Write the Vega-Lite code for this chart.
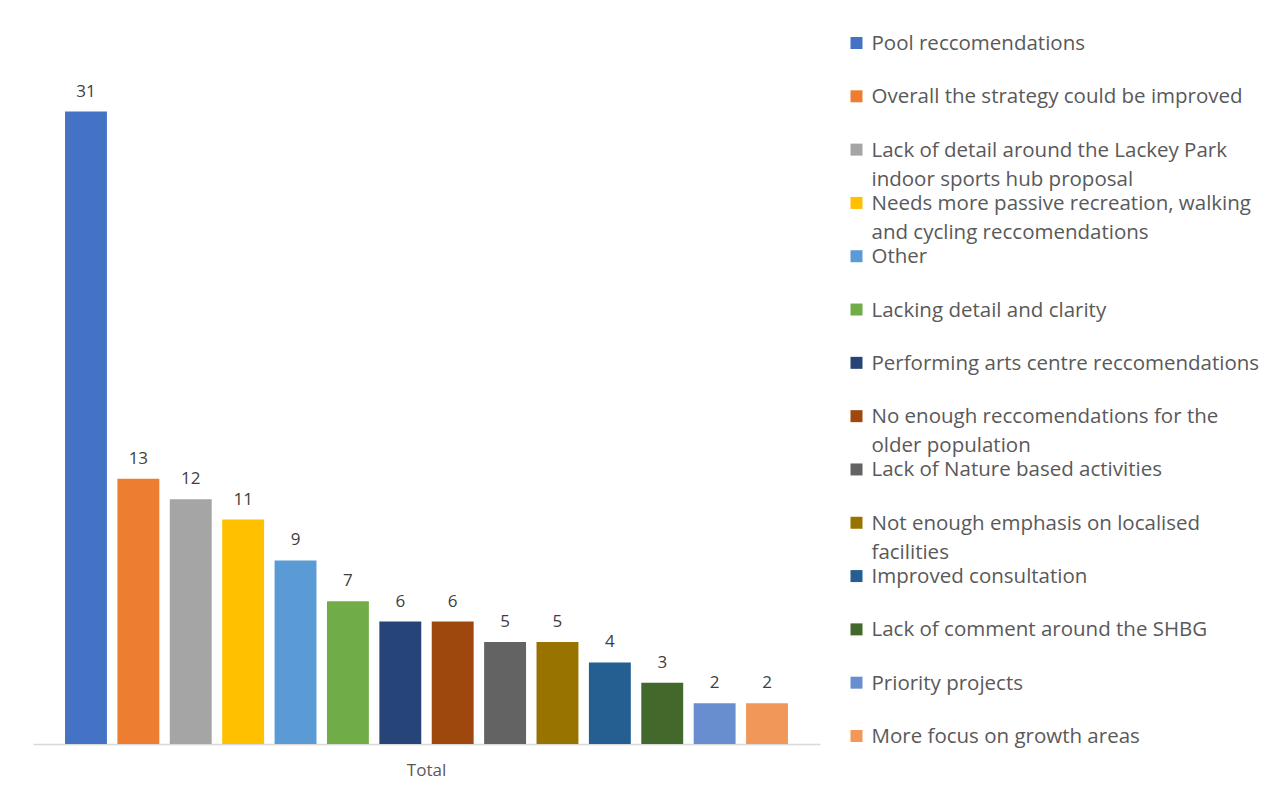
{
  "$schema": "https://vega.github.io/schema/vega-lite/v6.json",
  "background": "white",
  "padding": {"left": 33, "top": 30, "right": 0, "bottom": 12},
  "config": {"view": {"stroke": null}, "font": "Open Sans"},
  "data": {
    "values": [
      {"group": "Total", "order": 1, "name": "Pool reccomendations", "legend": "Pool reccomendations", "value": 31},
      {"group": "Total", "order": 2, "name": "Overall the strategy could be improved", "legend": "Overall the strategy could be improved", "value": 13},
      {"group": "Total", "order": 3, "name": "Lack of detail around the Lackey Park indoor sports hub proposal", "legend": "Lack of detail around the Lackey Park\nindoor sports hub proposal", "value": 12},
      {"group": "Total", "order": 4, "name": "Needs more passive recreation, walking and cycling reccomendations", "legend": "Needs more passive recreation, walking\nand cycling reccomendations", "value": 11},
      {"group": "Total", "order": 5, "name": "Other", "legend": "Other", "value": 9},
      {"group": "Total", "order": 6, "name": "Lacking detail and clarity", "legend": "Lacking detail and clarity", "value": 7},
      {"group": "Total", "order": 7, "name": "Performing arts centre reccomendations", "legend": "Performing arts centre reccomendations", "value": 6},
      {"group": "Total", "order": 8, "name": "No enough reccomendations for the older population", "legend": "No enough reccomendations for the\nolder population", "value": 6},
      {"group": "Total", "order": 9, "name": "Lack of Nature based activities", "legend": "Lack of Nature based activities", "value": 5},
      {"group": "Total", "order": 10, "name": "Not enough emphasis on localised facilities", "legend": "Not enough emphasis on localised\nfacilities", "value": 5},
      {"group": "Total", "order": 11, "name": "Improved consultation", "legend": "Improved consultation", "value": 4},
      {"group": "Total", "order": 12, "name": "Lack of comment around the SHBG", "legend": "Lack of comment around the SHBG", "value": 3},
      {"group": "Total", "order": 13, "name": "Priority projects", "legend": "Priority projects", "value": 2},
      {"group": "Total", "order": 14, "name": "More focus on growth areas", "legend": "More focus on growth areas", "value": 2}
    ]
  },
  "spacing": 26,
  "hconcat": [
    {
      "width": 787,
      "height": 714,
      "encoding": {
        "x": {
          "field": "group", "type": "nominal", "title": null,
          "scale": {"paddingInner": 0, "paddingOuter": 0.0443},
          "axis": {
            "labelAngle": 0, "ticks": false, "labelFontSize": 17, "labelColor": "#595959",
            "labelPadding": 18, "domainColor": "#d9d9d9", "domainWidth": 1.5, "labelFont": "Open Sans"
          }
        },
        "xOffset": {
          "field": "order", "type": "ordinal",
          "scale": {"paddingInner": 0.2, "paddingOuter": 0}
        },
        "y": {
          "field": "value", "type": "quantitative",
          "scale": {"domain": [0, 35], "nice": false},
          "axis": null
        }
      },
      "layer": [
        {
          "mark": {"type": "bar"},
          "encoding": {
            "color": {
              "field": "name", "type": "nominal", "legend": null,
              "scale": {
                "domain": ["Pool reccomendations", "Overall the strategy could be improved", "Lack of detail around the Lackey Park indoor sports hub proposal", "Needs more passive recreation, walking and cycling reccomendations", "Other", "Lacking detail and clarity", "Performing arts centre reccomendations", "No enough reccomendations for the older population", "Lack of Nature based activities", "Not enough emphasis on localised facilities", "Improved consultation", "Lack of comment around the SHBG", "Priority projects", "More focus on growth areas"],
                "range": ["#4472C4", "#ED7D31", "#A5A5A5", "#FFC000", "#5B9BD5", "#70AD47", "#264478", "#9E480E", "#636363", "#997300", "#255E91", "#43682B", "#698ED0", "#F1975A"]
              }
            }
          }
        },
        {
          "mark": {"type": "text", "baseline": "alphabetic", "dy": -15, "fontSize": 17, "color": "#404040", "font": "Open Sans"},
          "encoding": {"text": {"field": "value", "type": "quantitative"}}
        }
      ]
    },
    {
      "width": 21,
      "height": 719,
      "encoding": {
        "y": {
          "field": "order", "type": "ordinal",
          "scale": {"type": "point", "padding": 0.244},
          "axis": null
        }
      },
      "layer": [
        {
          "mark": {"type": "square", "size": 144, "opacity": 1, "filled": true},
          "encoding": {
            "color": {"field": "name", "type": "nominal", "legend": null}
          }
        },
        {
          "mark": {"type": "text", "align": "left", "baseline": "alphabetic", "dx": 15, "dy": 7, "fontSize": 20.5, "lineHeight": 29, "lineBreak": "\n", "color": "#595959", "font": "Open Sans"},
          "encoding": {"text": {"field": "legend", "type": "nominal"}}
        }
      ]
    }
  ]
}
